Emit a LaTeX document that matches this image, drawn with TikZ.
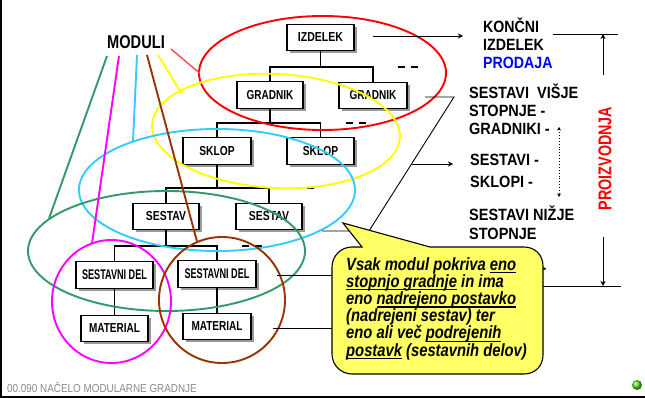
\documentclass[tikz,border=0pt]{standalone}
\usepackage{fontspec}
\setmainfont{Liberation Sans}
\usepackage{graphicx}
\usetikzlibrary{arrows.meta,shadows}

\definecolor{ringred}{HTML}{FF0000}
\definecolor{ringyellow}{HTML}{FFFF00}
\definecolor{ringcyan}{HTML}{33CCFF}
\definecolor{ringgreen}{HTML}{339966}
\definecolor{ringmagenta}{HTML}{FF00FF}
\definecolor{ringbrown}{HTML}{993300}
\definecolor{linkred}{HTML}{FF5050}
\definecolor{notefill}{HTML}{FFFF66}
\definecolor{saleblue}{HTML}{0000FF}
\definecolor{footgray}{HTML}{8A8A8A}
\definecolor{dotgreen}{HTML}{55DD22}

% horizontally condensed text
\newcommand\sxt[2]{\scalebox{#1}[1]{#2}}
% underlined phrase
\newcommand\undl[1]{\setbox0=\hbox{#1}\rlap{\rule[-3.2pt]{\wd0}{1.3pt}}\box0\relax}

\begin{document}
\begin{tikzpicture}[x=1pt,y=-1pt,
  box/.style={draw, line width=1.1pt, fill=white, inner sep=0pt,
    minimum height=26.5pt, font=\bfseries\fontsize{13}{13}\selectfont,
    drop shadow={shadow xshift=2.5pt, shadow yshift=-2.5pt, fill=black!40, opacity=1}},
  widebox/.style={box, font=\bfseries\fontsize{14}{14}\selectfont},
  tree/.style={line width=1.1pt},
  treedash/.style={line width=1.1pt, dash pattern=on 7pt off 6pt},
  ring/.style={line width=1.9pt},
  link/.style={line width=1.9pt},
  rtext/.style={anchor=base west, inner sep=0pt, font=\bfseries\fontsize{16.3}{16.3}\selectfont},
  ctext/.style={anchor=base west, inner sep=0pt, font=\bfseries\itshape\fontsize{17.7}{17.7}\selectfont},
  arr/.style={line width=0.9pt, -{Stealth[length=5pt,width=5pt,inset=1.5pt]}},
  thinline/.style={line width=0.9pt}]

% page
\fill[white] (0,0) rectangle (645,398);
\useasboundingbox (0,0) rectangle (645,398);
\draw[line width=1.6pt] (0.8,0) -- (0.8,398);
\draw[line width=1.8pt] (0,397.1) -- (645,397.1);

% tree levels
\coordinate (lv1) at (0,67);
\coordinate (lv2) at (0,123);
\coordinate (lv3) at (0,188);
\coordinate (lv4) at (0,246);

% boxes
\node[box, minimum width=67pt] (izd) at (320.5,37.5) {\sxt{0.81}{IZDELEK}};
\node[box, minimum width=66pt] (gr1) at (270,95) {\sxt{0.77}{GRADNIK}};
\node[box, minimum width=68pt] (gr2) at (373,95.5) {\sxt{0.77}{GRADNIK}};
\node[box, minimum width=68pt] (sk1) at (217,151) {\sxt{0.79}{SKLOP}};
\node[box, minimum width=67pt] (sk2) at (320.5,151) {\sxt{0.79}{SKLOP}};
\node[box, minimum width=66pt] (se1) at (166,216.5) {\sxt{0.8}{SESTAV}};
\node[box, minimum width=66pt] (se2) at (269,216.5) {\sxt{0.8}{SESTAV}};
\node[widebox, minimum width=77pt] (sd1) at (114.5,275) {\sxt{0.65}{SESTAVNI DEL}};
\node[widebox, minimum width=78pt] (sd2) at (217,274) {\sxt{0.65}{SESTAVNI DEL}};
\node[box, minimum width=67pt] (ma1) at (114.5,328.5) {\sxt{0.77}{MATERIAL}};
\node[box, minimum width=68pt] (ma2) at (217,326.5) {\sxt{0.77}{MATERIAL}};

% tree connectors
\draw[tree] (izd.south) -- (izd.south |- lv1);
\draw[tree] (gr1.north) -- (gr1.north |- lv1) -- (gr2.north |- lv1) -- (gr2.north);
\draw[treedash] ([xshift=24.5pt]gr2.north |- lv1) -- ++(22,0);
\draw[tree] (gr1.south) -- (gr1.south |- lv2);
\draw[tree] (sk1.north) -- (sk1.north |- lv2) -- (sk2.north |- lv2) -- (sk2.north);
\draw[treedash] ([xshift=25pt]sk2.north |- lv2) -- ++(22,0);
\draw[tree] (sk1.south) -- (sk1.south |- lv3);
\draw[tree] (se1.north) -- (se1.north |- lv3) -- (se2.north |- lv3) -- (se2.north);
\draw[treedash] ([xshift=25pt]se2.north |- lv3) -- ++(22,0);
\draw[tree] (se1.south) -- (se1.south |- lv4);
\draw[tree] (sd1.north) -- (sd1.north |- lv4) -- (sd2.north |- lv4) -- (sd2.north);
\draw[treedash] ([xshift=25pt]sd2.north |- lv4) -- ++(22,0);
\draw[tree] (sd1.south) -- (ma1.north);
\draw[tree] (sd2.south) -- (ma2.north);

% module rings
\draw[ring, ringred] (322.5,73) ellipse [x radius=123.5pt, y radius=57pt];
\draw[ring, ringyellow, rotate around={-3:(276,131)}] (276,131) ellipse [x radius=124pt, y radius=57pt];
\draw[ring, ringcyan] (217,190) ellipse [x radius=138pt, y radius=61pt];
\draw[ring, ringgreen] (166.5,251) ellipse [x radius=138.5pt, y radius=60pt];
\draw[ring, ringmagenta] (111.5,301.5) ellipse [x radius=59.5pt, y radius=61.5pt];
\draw[ring, ringbrown] (222,300) ellipse [x radius=63pt, y radius=63pt];

% label and its links to the rings
\node[anchor=base west, inner sep=0pt, font=\bfseries\fontsize{18.5}{18.5}\selectfont] (mod) at (107,49) {\sxt{0.79}{MODULI}};
\coordinate (mG) at (107,56);   \coordinate (eG) at (49,218.5);
\coordinate (mM) at (119,56);   \coordinate (eM) at (92,243.5);
\coordinate (mC) at (137,55);   \coordinate (eC) at (133,141.5);
\coordinate (mB) at (147,55);   \coordinate (eB) at (197,241.5);
\coordinate (mY) at (158,55);   \coordinate (eY) at (182,94);
\coordinate (mR) at (171,49);   \coordinate (eR) at (199.5,73);
\draw[link, ringgreen] (mG) -- (eG);
\draw[link, ringmagenta] (mM) -- (eM);
\draw[link, ringcyan] (mC) -- (eC);
\draw[link, ringbrown] (mB) -- (eB);
\draw[link, ringyellow] (mY) -- (eY);
\draw[link, linkred, line width=1.5pt] (mR) -- (eR);

% right-hand column
\coordinate (izdOut) at (373,36);
\coordinate (izdTip) at (463,36);
\draw[arr] (izdOut) -- (izdTip);
\node[rtext] (t1) at (483,33) {\sxt{0.87}{KONČNI}};
\node[rtext] (t2) at (483,50.5) {\sxt{0.87}{IZDELEK}};
\node[rtext, text=saleblue] (t3) at (483,69) {\sxt{0.87}{PRODAJA}};

\node[rtext] (s1) at (469,99) {\sxt{0.89}{SESTAVI~ VIŠJE}};
\node[rtext] (s2) at (469,117) {\sxt{0.89}{STOPNJE -}};
\node[rtext] (s3) at (469,135) {\sxt{0.89}{GRADNIKI -}};
\node[rtext] (s4) at (470,166) {\sxt{0.89}{SESTAVI -}};
\node[rtext] (s5) at (470,188) {\sxt{0.89}{SKLOPI -}};
\node[rtext] (s6) at (469,220) {\sxt{0.89}{SESTAVI NIŽJE}};
\node[rtext] (s7) at (469,239) {\sxt{0.89}{STOPNJE}};
\node[rtext] (s8) at (541.5,273) {\sxt{0.89}{-}};

\coordinate (dA) at (559,127);
\coordinate (dB) at (559,197);
\draw[line width=0.9pt, dotted, {Stealth[length=3.5pt,width=4pt]}-{Stealth[length=3.5pt,width=4pt]}] (dA) -- (dB);

% production span
\coordinate (topL) at (553,34);  \coordinate (topR) at (618,34);
\coordinate (botL) at (543,286); \coordinate (botR) at (621,286);
\coordinate (upFrom) at (603,75);   \coordinate (upTo) at (603,34);
\coordinate (dnFrom) at (603,237);  \coordinate (dnTo) at (603,286);
\draw[thinline] (topL) -- (topR);
\draw[thinline] (botL) -- (botR);
\draw[arr] (upFrom) -- (upTo);
\draw[arr] (dnFrom) -- (dnTo);
\node[rotate=90, inner sep=0pt, text=ringred, font=\bfseries\fontsize{18.5}{18.5}\selectfont] (prod) at (605,158.5) {\sxt{0.775}{PROIZVODNJA}};

% bracket pointing at the assembly levels
\coordinate (bA) at (425,97);
\coordinate (bB) at (454,97);
\coordinate (bC) at (369,231);
\coordinate (bD) at (322,231);
\draw[thinline] (bA) -- (bB) -- (bC) -- (bD);
\coordinate (aFrom) at (411.5,164);
\coordinate (aTo) at (453,164);
\draw[arr] (aFrom) -- (aTo);

% leads from the lowest modules
\coordinate (sdOut) at (277,275);  \coordinate (sdIn) at (333,275);
\coordinate (maOut) at (273,328);  \coordinate (maIn) at (333,328);
\draw[thinline] (sdOut) -- (sdIn);
\draw[thinline] (maOut) -- (maIn);

% callout
\draw[line width=1.1pt, fill=notefill]
  (332,267) .. controls (332,256) and (341,247) .. (352,247)
  -- (362,247) -- (343,223) -- (430,247) -- (524,247)
  .. controls (535,247) and (543,255) .. (543,266)
  -- (543,355) .. controls (543,366) and (535,374) .. (524,374)
  -- (352,374) .. controls (341,374) and (332,365) .. (332,354) -- cycle;
\node[ctext] (c1) at (346,270) {\sxt{0.835}{Vsak modul pokriva \undl{eno}}};
\node[ctext] (c2) at (346,287.2) {\sxt{0.835}{\undl{stopnjo gradnje} in ima}};
\node[ctext] (c3) at (346,304.4) {\sxt{0.835}{eno \undl{nadrejeno postavko}}};
\node[ctext] (c4) at (346,321.6) {\sxt{0.835}{(nadrejeni sestav) ter}};
\node[ctext] (c5) at (346,338.8) {\sxt{0.835}{eno ali več \undl{podrejenih}}};
\node[ctext] (c6) at (346,356) {\sxt{0.835}{\undl{postavk} (sestavnih delov)}};

% footer
\node[anchor=base west, inner sep=0pt, text=footgray, font=\fontsize{11.5}{11.5}\selectfont] (foot) at (7,392) {\sxt{0.86}{00.090 NAČELO MODULARNE GRADNJE}};
\shade[ball color=dotgreen] (637,385) circle (5pt);
\end{tikzpicture}
\end{document}
